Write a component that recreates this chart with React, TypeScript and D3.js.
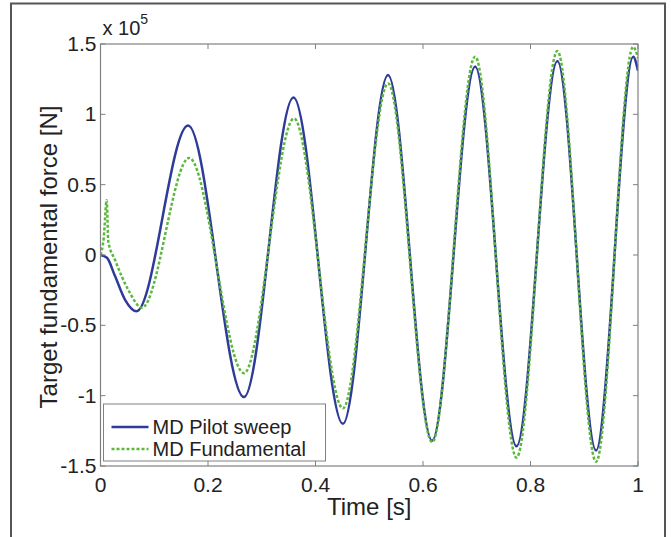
import * as d3 from "d3";

// values, force in units of 1e5 N
const pilotTime = [0, 0.012, 0.027, 0.046, 0.067, 0.163, 0.267, 0.359, 0.451, 0.535, 0.617, 0.697, 0.774, 0.85, 0.922, 0.991, 1];
const pilotForce = [0, -0.02, -0.15, -0.32, -0.4, 0.92, -1.01, 1.12, -1.2, 1.28, -1.32, 1.34, -1.36, 1.38, -1.39, 1.41, 1.31];

const fundTime = [0, 0.006, 0.0115, 0.0145, 0.027, 0.052, 0.077, 0.165, 0.267, 0.36, 0.451, 0.535, 0.617, 0.697, 0.774, 0.85, 0.922, 0.991, 1];
const fundForce = [0, 0.12, 0.39, 0.095, -0.035, -0.25, -0.375, 0.69, -0.84, 0.97, -1.09, 1.22, -1.33, 1.41, -1.44, 1.45, -1.47, 1.48, 1.4];

const xTicks = [0, 0.2, 0.4, 0.6, 0.8, 1];
const yTicks = [-1.5, -1, -0.5, 0, 0.5, 1, 1.5];

const seriesNames = ["MD Pilot sweep", "MD Fundamental"];

export default function App() {
  const width = 671;
  const height = 537;
  const margin = { top: 44, right: 33, bottom: 71, left: 100.5 };
  const boundsWidth = width - margin.left - margin.right;
  const boundsHeight = height - margin.top - margin.bottom;

  const xScale = d3.scaleLinear().domain([0, 1]).range([0, boundsWidth]);
  const yScale = d3.scaleLinear().domain([-1.5, 1.5]).range([boundsHeight, 0]);

  const line = d3
    .line<[number, number]>()
    .x((d) => xScale(d[0]))
    .y((d) => yScale(d[1]))
    .curve(d3.curveMonotoneX);

  const pilot = pilotTime.map((t, i) => [t, pilotForce[i]] as [number, number]);
  const fund = fundTime.map((t, i) => [t, fundForce[i]] as [number, number]);

  const font = "'Liberation Sans', Arial, sans-serif";
  const axisColor = "#808080";
  const blue = "#2f3b98";
  const green = "#5cb83c";

  return (
    <svg
      width={width}
      height={height}
      style={{ position: "absolute", left: 0, top: 0, background: "#fff" }}
      fontFamily={font}
    >
      {/* outer figure frame */}
      <rect x={11} y={3.5} width={654} height={560} fill="none" stroke="#555" strokeWidth={2} />

      <g transform={`translate(${margin.left}, ${margin.top})`}>
        <defs>
          <clipPath id="plot-clip">
            <rect x={0} y={-4} width={boundsWidth} height={boundsHeight + 8} />
          </clipPath>
        </defs>

        <g clipPath="url(#plot-clip)">
          <path d={line(pilot) ?? ""} fill="none" stroke={blue} strokeWidth={2.5} />
          <path
            d={line(fund) ?? ""}
            fill="none"
            stroke={green}
            strokeWidth={2.5}
            strokeDasharray="3,2"
          />
        </g>

        {/* axes box */}
        <rect x={0} y={0} width={boundsWidth} height={boundsHeight} fill="none" stroke={axisColor} strokeWidth={1.2} />

        {xTicks.map((tick) => (
          <g key={tick} transform={`translate(${xScale(tick)}, 0)`}>
            <line y1={boundsHeight} y2={boundsHeight - 5} stroke={axisColor} />
            <line y1={0} y2={5} stroke={axisColor} />
            <text y={boundsHeight + 26} textAnchor="middle" fontSize={21} fill="#222">
              {tick}
            </text>
          </g>
        ))}

        {yTicks.map((tick) => (
          <g key={tick} transform={`translate(0, ${yScale(tick)})`}>
            <line x1={0} x2={5} stroke={axisColor} />
            <line x1={boundsWidth} x2={boundsWidth - 5} stroke={axisColor} />
            <text x={-4} y={7} textAnchor="end" fontSize={21} fill="#222">
              {tick}
            </text>
          </g>
        ))}

        {/* exponent */}
        <text x={2} y={-9} fontSize={20} fill="#222">
          x 10
          <tspan dy={-11} fontSize={14}>5</tspan>
        </text>

        <text
          x={boundsWidth / 2}
          y={boundsHeight + 49}
          textAnchor="middle"
          fontSize={24}
          fill="#222"
        >
          Time [s]
        </text>

        <text
          transform={`translate(-44, ${boundsHeight / 2 + 2}) rotate(-90)`}
          textAnchor="middle"
          fontSize={24}
          fill="#222"
        >
          Target fundamental force [N]
        </text>

        {/* legend */}
        <g transform={`translate(3, ${boundsHeight - 62})`}>
          <rect x={0} y={0} width={222} height={57} fill="#fff" stroke={axisColor} strokeWidth={1} />
          {seriesNames.map((name, i) => (
            <g key={name} transform={`translate(0, ${16 + i * 22})`}>
              <line
                x1={8}
                x2={45}
                y1={7}
                y2={7}
                stroke={i === 0 ? blue : green}
                strokeWidth={2.5}
                strokeDasharray={i === 0 ? undefined : "3,2"}
              />
              <text x={49} y={14} fontSize={20} fill="#222">
                {name}
              </text>
            </g>
          ))}
        </g>
      </g>
    </svg>
  );
}
